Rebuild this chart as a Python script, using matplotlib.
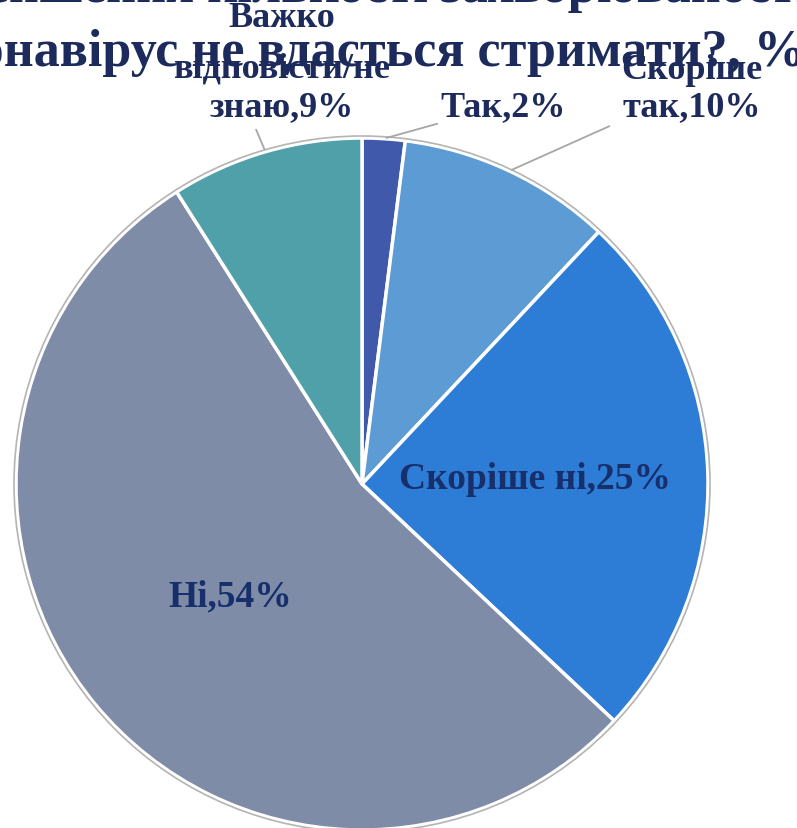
import numpy as np
import matplotlib
matplotlib.use('Agg')
import matplotlib.pyplot as plt
from matplotlib.patches import Circle

labels = ['Так', 'Скоріше так', 'Скоріше ні', 'Ні', 'Важко відповісти/не знаю']
values = [2, 10, 25, 54, 9]
title_lines = ['зменшення кількості захворюваності в разі, якщо',
               'коронавірус не вдасться стримати?, %']

colors = ['#4059ab', '#5c9bd4', '#2d7dd6', '#7f8ca8', '#50a0aa']
navy = '#1c2a5c'
serif = 'Liberation Serif'

W, H = 797, 829
fig = plt.figure(figsize=(W / 100, H / 100), dpi=100)
ax = fig.add_axes([0, 0, 1, 1])

cx, cy, R = 362, 485, 346
wedges, _ = ax.pie(values, colors=colors, startangle=-90, counterclock=True,
                   center=(cx, cy), radius=R,
                   wedgeprops=dict(edgecolor='white', linewidth=2.5))
ax.add_patch(Circle((cx, cy), R + 2, fill=False, edgecolor='#b4b4b4', lw=1.2))
ax.set_xlim(0, W)
ax.set_ylim(H, 0)
ax.axis('off')


def mid_point(w, d):
    a = np.deg2rad((w.theta1 + w.theta2) / 2)
    return cx + R * d * np.cos(a), cy + R * d * np.sin(a)


# title (cut off at the top, as in the source)
ax.text(-70, 2, title_lines[0], ha='left', va='baseline', fontsize=37.5,
        fontweight='bold', family=serif, color=navy)
ax.text(806, 66, title_lines[1], ha='right', va='baseline', fontsize=37.5,
        fontweight='bold', family=serif, color=navy)

# inside labels
for i, d in [(2, 0.5), (3, 0.51)]:
    x, y = mid_point(wedges[i], d)
    ax.text(x + (4 if i == 3 else 0), y, '{},{}%'.format(labels[i], values[i]),
            ha='center', va='center',
            fontsize=27, fontweight='bold', family=serif, color='#17306c')

# outside labels with leader lines
out_text = {
    0: (['{},{}%'.format(labels[0], values[0])], 503, [108], (440, 124)),
    1: (['Скоріше', 'так,{}%'.format(values[1])], 692, [70, 108], (612, 126)),
    4: (['Важко', 'відповісти/не', 'знаю,{}%'.format(values[4])], 282,
        [18, 69, 108], (255, 128)),
}
for i, (lines, x, ys, lpos) in out_text.items():
    for line, y in zip(lines, ys):
        ax.text(x, y, line, ha='center', va='center', fontsize=26,
                fontweight='bold', family=serif, color=navy)
    ax.annotate('', xy=mid_point(wedges[i], 1.0), xytext=lpos,
                arrowprops=dict(arrowstyle='-', color='#a6a6a6', lw=1.3))

fig.savefig('out.png', dpi=100)
